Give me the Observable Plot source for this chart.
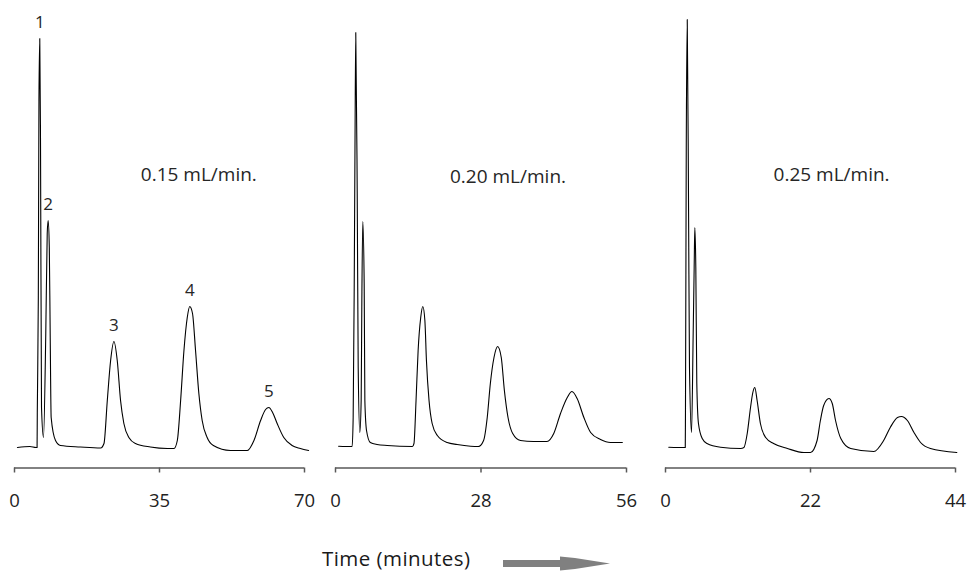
<!DOCTYPE html>
<html>
<head>
<meta charset="utf-8">
<script src="https://cdn.jsdelivr.net/npm/d3@7"></script>
<script src="https://cdn.jsdelivr.net/npm/@observablehq/plot@0.6"></script>
<style>
  html, body { margin: 0; padding: 0; background: #fff; }
  #wrap { position: relative; width: 967px; height: 572px; background: #fff; overflow: hidden; font-family: "Open Sans", sans-serif; }
  .panel { position: absolute; top: 0; }
</style>
</head>
<body>
<div id="wrap"></div>
<script>
// ---- Data (time in minutes, detector signal in arbitrary units) ----
// Panel 1: 0.15 mL/min
const time1 = [0.7, 3.7, 5.2, 5.45, 5.5, 5.75, 5.9, 6.1, 6.28, 6.52, 7.0, 7.55, 7.9, 8.13, 8.4, 8.6, 8.85, 9.9, 11.1, 15.9, 20.8,
  21.6, 22.4, 23.2, 24.0, 24.8, 25.6, 26.4, 27.6, 29.2, 32.8, 36.9,
  38.5, 39.3, 40.1, 40.9, 41.7, 42.3, 42.97, 43.7, 44.5, 45.3, 46.5, 48.0, 52.1, 56.2,
  57.8, 59.4, 60.6, 61.4, 62.3, 63.4, 65.0, 67.0, 69.0, 71.0];
const signal1 = [0, 1, 0, 0, 34, 150, 347, 409, 304, 40, 10, 114, 214, 227, 200, 120, 30, 7, 2, 0.5, -0.5,
  4, 47, 87, 106, 87, 47, 24, 10, 4, 0.5, -1,
  -1, 7, 47, 97, 130, 141, 134, 97, 54, 27, 10, 2, -3, -3,
  7, 27, 38, 40, 35, 24, 10, 2, -1, -3];

// Panel 2: 0.20 mL/min
const time2 = [0.6, 3.2, 3.4, 3.6, 3.75, 3.9, 4.18, 4.37, 4.68, 4.94, 5.07, 5.25, 5.52, 5.65, 5.97, 6.7, 8.0, 9.95, 14.8,
  15.1, 15.5, 15.9, 16.4, 16.8, 17.2, 17.5, 18.0, 18.6, 19.6, 21.5, 23.4, 26.0, 27.5,
  28.5, 29.2, 29.8, 30.5, 31.2, 31.9, 32.5, 33.2, 34.1, 35.6, 38.1, 40.7,
  42.0, 43.3, 44.6, 45.5, 46.5, 47.8, 49.1, 51.0, 52.9, 55.2];
const signal2 = [1.3, 1, 30, 160, 300, 415, 254, 80, 15, 47, 147, 226, 164, 47, 17, 5, 3, 2, 1,
  4, 47, 97, 130, 141, 127, 87, 47, 24, 12, 5, 3, 1.3, 1,
  7, 30, 64, 90, 101, 90, 57, 30, 14, 7, 6, 6,
  14, 34, 50, 56, 49, 30, 15, 8, 5, 5];

// Panel 3: 0.25 mL/min
const time3 = [0.5, 3.0, 3.03, 3.15, 3.3, 3.5, 3.64, 3.95, 4.2, 4.35, 4.45, 4.6, 4.75, 5.0, 5.57, 6.3, 8.35, 11.4,
  11.9, 12.4, 12.9, 13.25, 13.55, 13.9, 14.4, 15.2, 16.4, 18.5, 21.0,
  22.0, 23.0, 23.5, 24.0, 24.8, 25.3, 25.8, 26.6, 28.1, 31.6,
  33.1, 34.1, 35.2, 35.8, 36.7, 37.7, 38.7, 40.2, 44.2];
const signal3 = [0.3, 0, 35, 300, 428, 237, 80, 15, 114, 180, 220, 180, 64, 24, 9, 4, 0.3, -1,
  0, 14, 40, 55, 60, 47, 24, 10, 4, -1, -5,
  -5, 7, 27, 42, 49, 44, 27, 9, -1, -4,
  7, 20, 30, 31, 27, 15, 5, -1, -5];

// Peak identities and apex positions (panel 1 only is labelled)
const peakNames = ["1", "2", "3", "4", "5"];
const peakTime1 = [6.1, 8.13, 24.0, 42.3, 61.4];
const peakSignal1 = [409, 227, 106, 141, 40];

// Axis ticks and flow-rate labels
const ticks1 = [0, 35, 70];
const ticks2 = [0, 28, 56];
const ticks3 = [0, 22, 44];
const flowLabels = ["0.15 mL/min.", "0.20 mL/min.", "0.25 mL/min."];
const xLabel = "Time (minutes)";

// ---- Drawing ----
const toRows = (t, s) => t.map((v, i) => ({time: v, signal: s[i]}));

const panels = [
  {rows: toRows(time1, signal1), ticks: ticks1, flow: flowLabels[0], left: 0, width: 320, ml: 14, mr: 16,
   flowX: 44.5, flowY: 267, peaks: true},
  {rows: toRows(time2, signal2), ticks: ticks2, flow: flowLabels[1], left: 320, width: 320, ml: 15, mr: 14,
   flowX: 33.2, flowY: 265, peaks: false},
  {rows: toRows(time3, signal3), ticks: ticks3, flow: flowLabels[2], left: 640, width: 327, ml: 25, mr: 12,
   flowX: 25.2, flowY: 267, peaks: false}
];

const wrap = document.getElementById("wrap");
const yMin = -20.5, yMax = 430;

for (const p of panels) {
  const max = p.ticks[p.ticks.length - 1];
  const marks = [
    Plot.ruleY([yMin], {stroke: "#595959", strokeWidth: 1.5}),
    Plot.axisX({ticks: p.ticks, tickSize: 5, tickPadding: 21, stroke: "#595959", strokeWidth: 1.5,
                fontSize: 18.5, label: null}),
    Plot.line(p.rows, {x: "time", y: "signal", stroke: "#000", strokeWidth: 1.1, curve: "monotone-x"}),
    Plot.text([p.flow], {x: p.flowX, y: p.flowY, text: d => d, fontSize: 19, fill: "#262626",
                         lineAnchor: "bottom", textAnchor: "middle"})
  ];
  if (p.peaks) {
    marks.push(Plot.text(peakNames, {
      x: (d, i) => peakTime1[i], y: (d, i) => peakSignal1[i], text: d => d,
      dy: -11, lineAnchor: "bottom", fontSize: 17, fill: "#262626"
    }));
  }
  const chart = Plot.plot({
    width: p.width,
    height: 520,
    marginTop: 17,
    marginBottom: 52.5,
    marginLeft: p.ml,
    marginRight: p.mr,
    style: {fontFamily: "Open Sans, sans-serif", fontSize: "18.5px", color: "#222", background: "transparent", overflow: "visible"},
    x: {domain: [0, max], label: null},
    y: {domain: [yMin, yMax], axis: null},
    marks
  });
  const div = document.createElement("div");
  div.className = "panel";
  div.style.left = p.left + "px";
  div.appendChild(chart);
  wrap.appendChild(div);
}

// Bottom axis title with arrow
const ns = "http://www.w3.org/2000/svg";
const svg = document.createElementNS(ns, "svg");
svg.setAttribute("width", 967);
svg.setAttribute("height", 52);
svg.style.position = "absolute";
svg.style.left = "0px";
svg.style.top = "520px";
const txt = document.createElementNS(ns, "text");
txt.setAttribute("x", 322);
txt.setAttribute("y", 45.5);
txt.setAttribute("font-family", "Open Sans, sans-serif");
txt.setAttribute("font-size", 20.5);
txt.setAttribute("textLength", 148);
txt.setAttribute("fill", "#1a1a1a");
txt.textContent = xLabel;
svg.appendChild(txt);
const arrow = document.createElementNS(ns, "polygon");
arrow.setAttribute("points", "503,40 560,40 560,36.5 575,38 610,43.5 575,49 560,50.5 560,47 503,47");
arrow.setAttribute("fill", "#808080");
svg.appendChild(arrow);
wrap.appendChild(svg);
</script>
</body>
</html>
